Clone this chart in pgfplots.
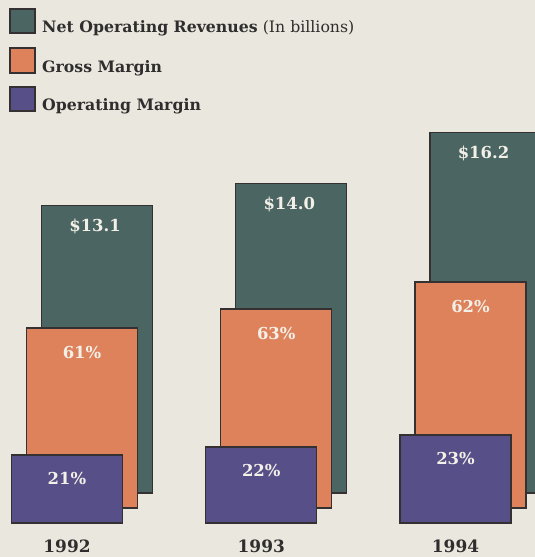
\documentclass[border=0pt]{standalone}
\usepackage{pgfplots}
\pgfplotsset{compat=1.18}
\usepackage{fontspec}
\setmainfont{DejaVu Serif}
\definecolor{bg}{HTML}{EAE7DE}
\definecolor{cTeal}{HTML}{4B6562}
\definecolor{cOrange}{HTML}{DE825C}
\definecolor{cPurple}{HTML}{574F87}
\definecolor{edge}{HTML}{353032}
\definecolor{lab}{HTML}{F3F0E8}
\definecolor{txt}{HTML}{2F2D2D}
\pgfplotsset{
  layer/.style={at={(0,0)}, anchor=south west, scale only axis,
    width=535bp, height=557bp, xmin=-0.3449, xmax=2.4093,
    hide axis, ybar, bar width=111bp, clip=true,
    nodes near coords, point meta=explicit symbolic,
    every node near coord/.append style={anchor=north, inner sep=0pt,
      font=\bfseries\fontsize{16.5}{17}\selectfont, text=lab}},
}
\begin{document}
\begin{tikzpicture}[x=1bp,y=1bp]
\fill[bg] (0,0) rectangle (535,557);
% Net operating revenues (back)
\begin{axis}[layer, ymin=-2.896, ymax=22.308,
  every node near coord/.append style={yshift=-13bp, xshift=-2bp}]
\addplot[fill=cTeal, draw=edge, line width=1.3bp, bar shift=30bp]
  coordinates {(0,13.0)[\$13.1] (1,14.0)[\$14.0] (2,16.3)[\$16.2]};
\end{axis}
% Gross margin (middle)
\begin{axis}[layer, ymin=-2.217, ymax=22.986,
  every node near coord/.append style={yshift=-18bp}]
\addplot[fill=cOrange, draw=edge, line width=1.3bp, bar shift=15bp]
  coordinates {(0,8.14)[61\%] (1,9.00)[63\%] (2,10.23)[62\%]};
\end{axis}
% Operating margin (front)
\begin{axis}[layer, ymin=-1.538, ymax=23.665,
  every node near coord/.append style={yshift=-17bp}]
\addplot[fill=cPurple, draw=edge, line width=1.3bp, bar shift=0bp]
  coordinates {(0,3.08)[21\%] (1,3.44)[22\%] (2,3.98)[23\%]};
\node[anchor=base, text=txt, font=\bfseries\fontsize{17}{17}\selectfont] at (axis cs:0,-1.357) {1992};
\node[anchor=base, text=txt, font=\bfseries\fontsize{17}{17}\selectfont] at (axis cs:1,-1.357) {1993};
\node[anchor=base, text=txt, font=\bfseries\fontsize{17}{17}\selectfont] at (axis cs:2,-1.357) {1994};
\end{axis}
% legend
\begin{scope}[font=\fontsize{15.8}{16}\selectfont, text=txt]
\filldraw[fill=cTeal, draw=edge, line width=1.4bp] (10,524) rectangle (35,548);
\node[anchor=base west, inner sep=0pt] at (42,524) {\textbf{Net Operating Revenues} (In billions)};
\filldraw[fill=cOrange, draw=edge, line width=1.4bp] (10,484) rectangle (35,509);
\node[anchor=base west, inner sep=0pt] at (42,484) {\textbf{Gross Margin}};
\filldraw[fill=cPurple, draw=edge, line width=1.4bp] (10,446) rectangle (35,470);
\node[anchor=base west, inner sep=0pt] at (42,446) {\textbf{Operating Margin}};
\end{scope}
\pgfresetboundingbox
\useasboundingbox (0,0) rectangle (535,557);
\end{tikzpicture}
\end{document}
